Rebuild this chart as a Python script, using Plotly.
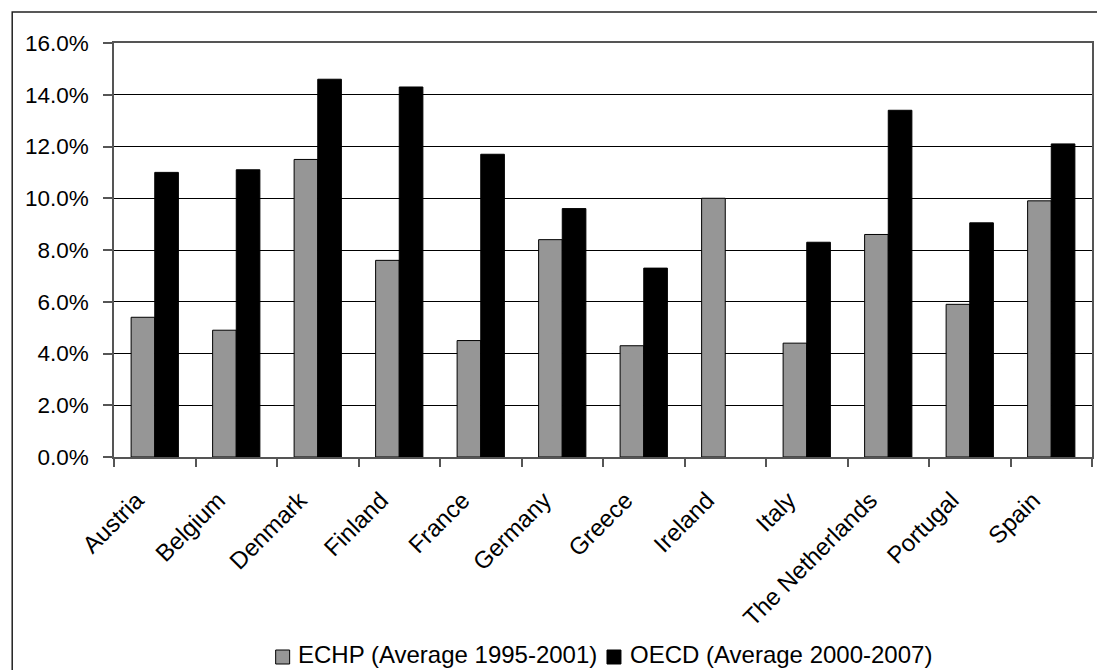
import plotly.graph_objects as go

# Countries and the two series (share, as fractions)
countries = ["Austria", "Belgium", "Denmark", "Finland", "France", "Germany",
             "Greece", "Ireland", "Italy", "The Netherlands", "Portugal", "Spain"]
echp_avg_1995_2001 = [0.054, 0.049, 0.115, 0.076, 0.045, 0.084,
                      0.043, 0.100, 0.044, 0.086, 0.059, 0.099]
oecd_avg_2000_2007 = [0.110, 0.111, 0.146, 0.143, 0.117, 0.096,
                      0.073, None, 0.083, 0.134, 0.0905, 0.121]

series_names = ["ECHP (Average 1995-2001)", "OECD (Average 2000-2007)"]
series_colors = ["#969696", "#000000"]
y_ticks = [0.0, 0.02, 0.04, 0.06, 0.08, 0.10, 0.12, 0.14, 0.16]

FONT = "Liberation Sans, Arial, sans-serif"

fig = go.Figure()
for name, vals, col in zip(series_names,
                           [echp_avg_1995_2001, oecd_avg_2000_2007],
                           series_colors):
    fig.add_trace(go.Bar(
        x=countries, y=vals, name=name,
        marker=dict(color=col, line=dict(color="#000000", width=1)),
    ))

W, H = 1097, 670
ml, mr, mt, mb = 114, 3, 43, 213
pw, ph = W - ml - mr, H - mt - mb


def px_x(x):
    return (x - ml) / pw


def px_y(y):
    return (H - mb - y) / ph


# outer chart frame
fig.add_shape(type="rect", xref="paper", yref="paper",
              x0=px_x(12), x1=px_x(W + 5), y0=px_y(H + 5), y1=px_y(12),
              line=dict(color="#222222", width=1.5), fillcolor="rgba(0,0,0,0)",
              layer="above")

# legend: swatch + label for each series, laid out in one row
legend_items = [(276, 297), (608, 630)]
for (sx, tx), name, col in zip(legend_items, series_names, series_colors):
    fig.add_shape(type="rect", xref="paper", yref="paper",
                  x0=px_x(sx), x1=px_x(sx + 14), y0=px_y(664), y1=px_y(650),
                  line=dict(color="#000000", width=1), fillcolor=col)
    fig.add_annotation(xref="paper", yref="paper", x=px_x(tx), y=px_y(669),
                       xanchor="left", yanchor="bottom", showarrow=False,
                       borderpad=0,
                       text=name, font=dict(family=FONT, size=24, color="#000000"))

fig.update_layout(
    width=W, height=H,
    margin=dict(l=ml, r=mr, t=mt, b=mb, pad=0),
    paper_bgcolor="#ffffff", plot_bgcolor="#ffffff",
    font=dict(family=FONT, size=22, color="#000000"),
    barmode="group", bargap=0.42, bargroupgap=0.0,
    showlegend=False,
)

fig.update_xaxes(
    type="category", tickangle=-45,
    showline=True, linecolor="#555555", linewidth=1.5, mirror=True,
    ticks="outside", ticklen=8, tickcolor="#555555", tickwidth=1.5,
    tickson="boundaries", showgrid=False,
    ticklabelstandoff=18, ticklabelshift=-18,
    tickfont=dict(family=FONT, size=24, color="#000000"),
)
fig.update_yaxes(
    range=[0, 0.16], tickvals=y_ticks, tickformat=".1%",
    showline=True, linecolor="#555555", linewidth=1.5, mirror=True,
    ticks="outside", ticklen=9, tickcolor="#555555", tickwidth=1.5,
    showgrid=True, gridcolor="#000000", gridwidth=1,
    zeroline=False, ticklabelstandoff=10,
    tickfont=dict(family=FONT, size=22.5, color="#000000"),
)

fig.write_html("out.html")
